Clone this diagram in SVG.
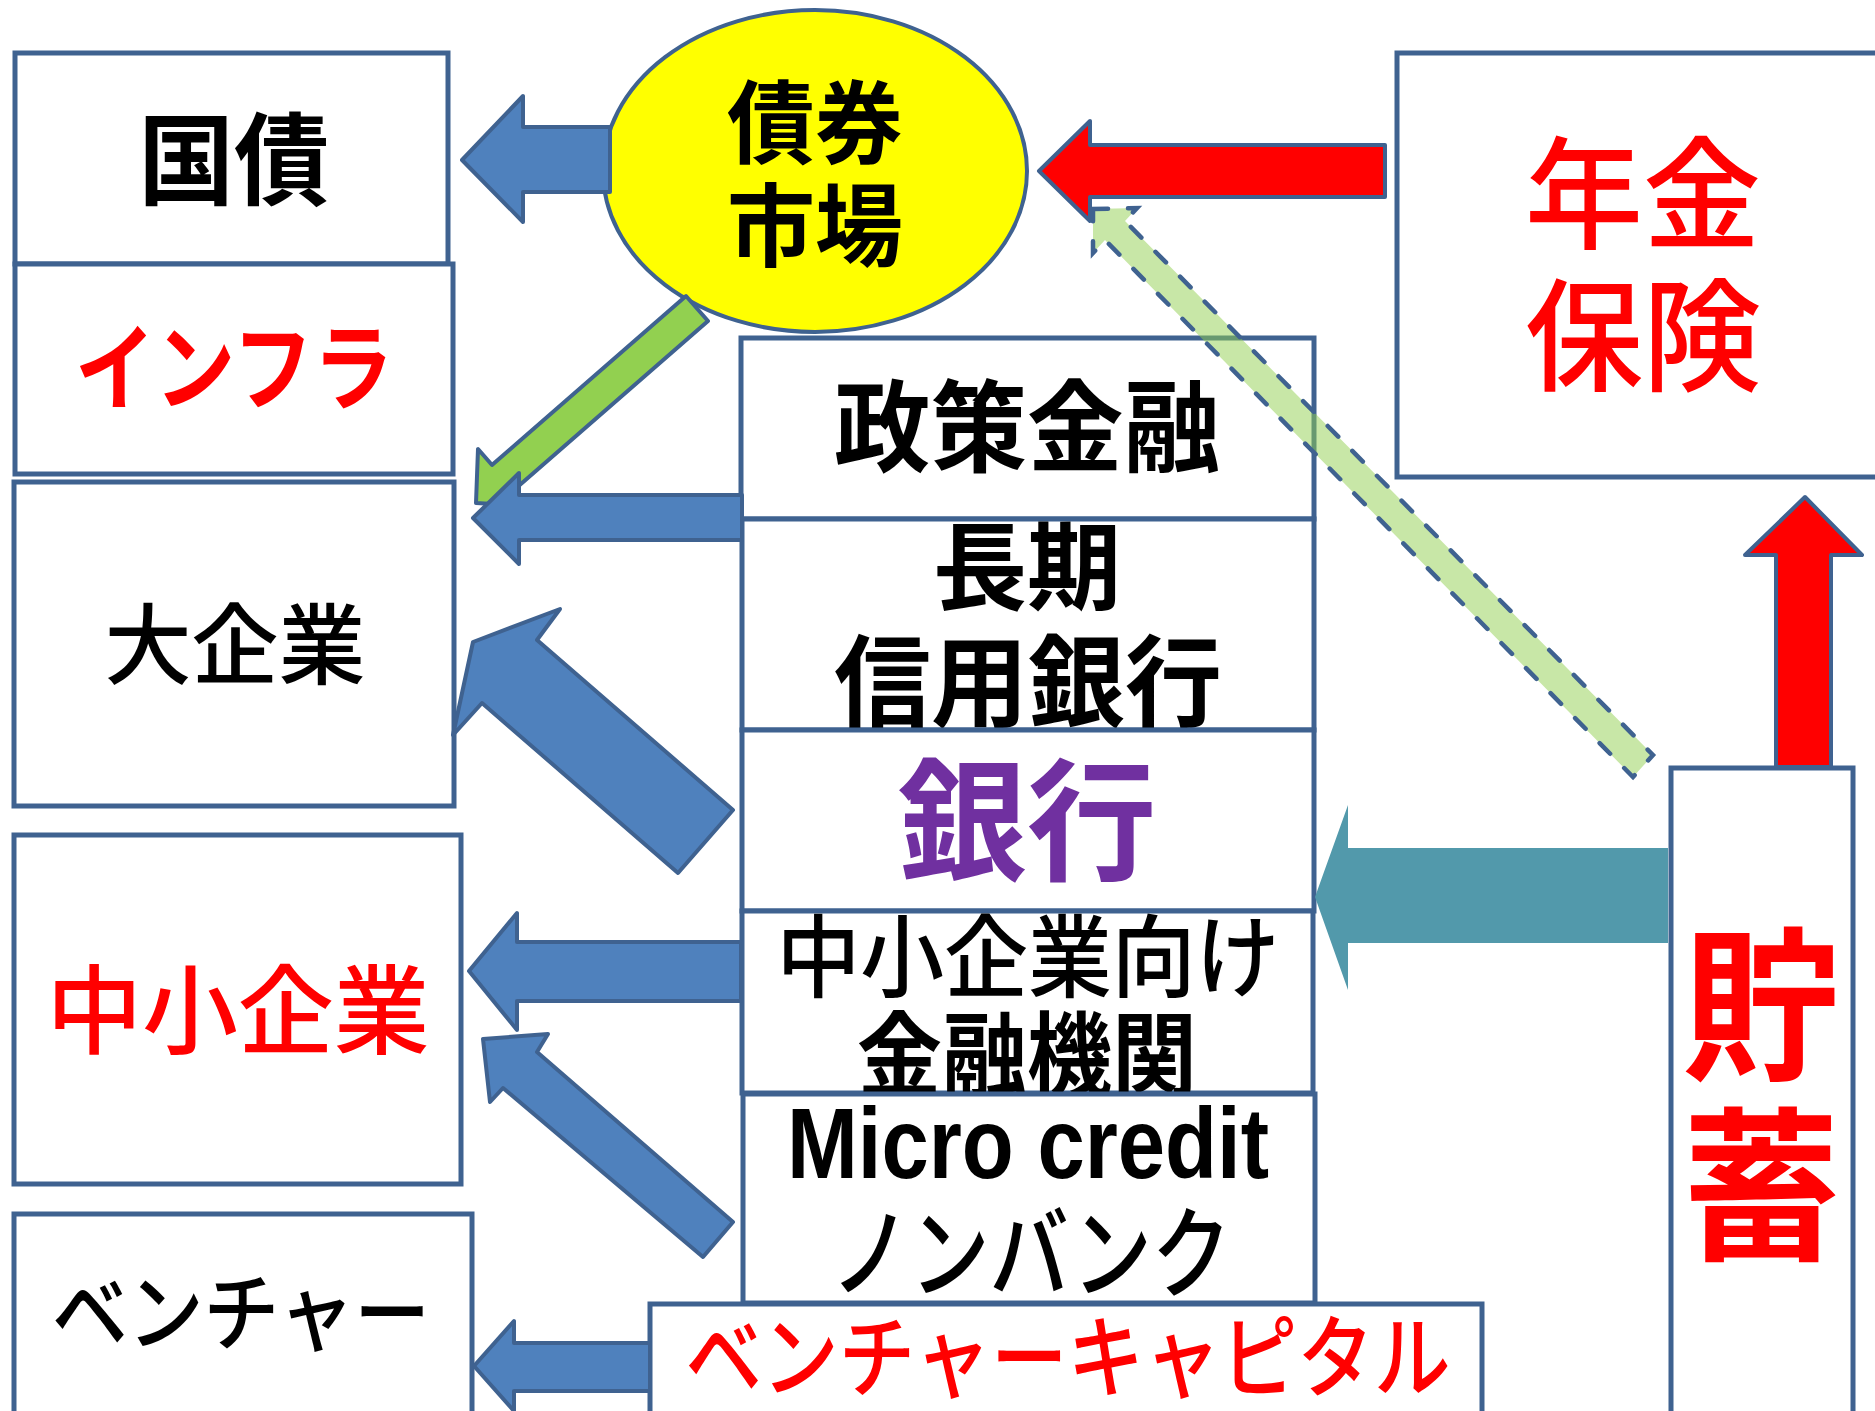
<svg xmlns="http://www.w3.org/2000/svg" width="1875" height="1411" viewBox="0 0 1875 1411">
<style>
.box{fill:#fff;stroke:#3F6290;stroke-width:5}
.t{font-family:"Noto Sans CJK JP","Noto Sans",sans-serif;text-anchor:middle}
.b{font-weight:700}
.m{font-weight:500}
.k{fill:#000}
.r{fill:#FF0000}
.ab{fill:#4F81BD;stroke:#3F6290;stroke-width:4;stroke-linejoin:round}
.ar{fill:#FF0000;stroke:#3F6290;stroke-width:4;stroke-linejoin:round}
.ag{fill:#92D050;stroke:#3F6290;stroke-width:4;stroke-linejoin:round}
.ad{fill:#92D050;fill-opacity:0.5;stroke:#3F6290;stroke-width:4.5;stroke-dasharray:15 20;stroke-linecap:round}
.at{fill:#5299AB}
</style>
<rect width="1875" height="1411" fill="#fff"/>

<g id="node-kokusai">
<rect class="box" x="15" y="53" width="433" height="211"/>
<text class="t b k" x="234" y="197" font-size="100" textLength="191" lengthAdjust="spacingAndGlyphs">国債</text>
</g>
<g id="node-infra">
<rect class="box" x="15" y="264" width="438" height="210"/>
<text class="t b r" x="234" y="403" font-size="95" textLength="318" lengthAdjust="spacingAndGlyphs">インフラ</text>
</g>
<g id="node-daikigyo">
<rect class="box" x="14" y="482" width="440" height="324"/>
<text class="t m k" x="235" y="677" font-size="88" textLength="261" lengthAdjust="spacingAndGlyphs">大企業</text>
</g>
<g id="node-chusho">
<rect class="box" x="14" y="835" width="447" height="349"/>
<text class="t m r" x="238" y="1046" font-size="97" textLength="383" lengthAdjust="spacingAndGlyphs">中小企業</text>
</g>
<g id="node-venture">
<rect class="box" x="14" y="1214" width="458" height="206"/>
<text class="t m k" x="241" y="1344" font-size="85" textLength="378" lengthAdjust="spacingAndGlyphs">ベンチャー</text>
</g>

<g id="node-seisaku">
<rect class="box" x="741" y="338" width="573" height="181"/>
<text class="t b k" x="1027" y="464" font-size="100" textLength="386" lengthAdjust="spacingAndGlyphs">政策金融</text>
</g>
<g id="node-choki">
<rect class="box" x="742" y="519" width="572" height="211"/>
<text class="t b k" x="1027" y="602" font-size="96" textLength="188" lengthAdjust="spacingAndGlyphs">長期</text>
<text class="t b k" x="1028" y="719" font-size="100" textLength="388" lengthAdjust="spacingAndGlyphs">信用銀行</text>
</g>
<g id="node-ginko">
<rect class="box" x="742" y="730" width="572" height="181"/>
<text class="t b" fill="#7030A0" x="1027" y="870" font-size="132" textLength="259" lengthAdjust="spacingAndGlyphs">銀行</text>
</g>
<g id="node-chusho-kikan">
<rect class="box" x="742" y="911" width="571" height="182"/>
<text class="t m k" x="1028" y="990" font-size="90" textLength="503" lengthAdjust="spacingAndGlyphs">中小企業向け</text>
<text class="t b k" x="1027" y="1089" font-size="92" textLength="340" lengthAdjust="spacingAndGlyphs">金融機関</text>
</g>
<g id="node-micro">
<rect class="box" x="743" y="1094" width="572" height="209"/>
<text x="1028" y="1178" font-family="'Liberation Sans',Arial,sans-serif" font-weight="700" font-size="100" text-anchor="middle" textLength="482" lengthAdjust="spacingAndGlyphs" fill="#000">Micro credit</text>
<text class="t m k" x="1031" y="1290" font-size="100" textLength="400" lengthAdjust="spacingAndGlyphs">ノンバンク</text>
</g>
<g id="node-vc">
<rect class="box" x="650" y="1304" width="832" height="120"/>
<text class="t m r" x="1068" y="1390" font-size="90" textLength="765" lengthAdjust="spacingAndGlyphs">ベンチャーキャピタル</text>
</g>

<g id="node-nenkin">
<rect class="box" x="1397" y="53" width="490" height="424"/>
<text class="t m r" x="1643" y="239" font-size="122" textLength="236" lengthAdjust="spacingAndGlyphs">年金</text>
<text class="t m r" x="1643" y="381" font-size="122" textLength="236" lengthAdjust="spacingAndGlyphs">保険</text>
</g>
<g id="node-chochiku">
<rect class="box" x="1671" y="768" width="182" height="660"/>
<text class="t b r" x="1761" y="1067" font-size="165" textLength="157" lengthAdjust="spacingAndGlyphs">貯</text>
<text class="t b r" x="1761" y="1247" font-size="165" textLength="157" lengthAdjust="spacingAndGlyphs">蓄</text>
</g>

<g id="node-saiken">
<ellipse cx="815" cy="171" rx="212" ry="161" fill="#FFFF00" stroke="#3F6290" stroke-width="4"/>
<text class="t b k" x="815" y="156" font-size="90" textLength="176" lengthAdjust="spacingAndGlyphs">債券</text>
<text class="t b k" x="815" y="259" font-size="90" textLength="176" lengthAdjust="spacingAndGlyphs">市場</text>
</g>

<g id="connectors">
<polygon class="ad" points="1093,209 1137,208 1125,221 1653,755 1633,777 1105,240 1093,253"/>
<polygon class="ab" points="462,160 523,96 523,127 610,127 610,192 523,192 523,222"/>
<polygon class="ag" points="686,296 492,465 478,449 476,503 528,506 514,490 708,321"/>
<polygon class="ab" points="473,518 519,473 519,495 742,495 742,540 519,540 519,564"/>
<polygon class="ab" points="473,642 560,609 537,640 733,810 678,873 482,703 453,735"/>
<polygon class="ab" points="469,971 517,913 517,942 741,942 741,1001 517,1001 517,1030"/>
<polygon class="ab" points="483,1039 548,1034 537,1052 733,1222 703,1257 503,1088 490,1102"/>
<polygon class="ab" points="474,1366 514,1321 514,1343 650,1343 650,1391 514,1391 514,1411"/>
<polygon class="ar" points="1039,171 1090,121 1090,145 1385,145 1385,197 1090,197 1090,221"/>
<polygon class="ar" points="1805,497 1862,555 1831,555 1831,767 1776,767 1776,555 1745,555"/>
<polygon class="at" points="1315,897 1348,805 1348,848 1668,848 1668,943 1348,943 1348,990"/>
</g>
</svg>
